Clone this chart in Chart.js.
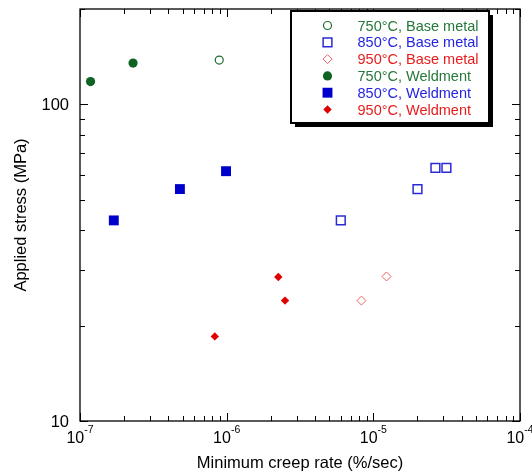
<!DOCTYPE html>
<html>
<head>
<meta charset="utf-8">
<script src="https://cdn.jsdelivr.net/npm/chart.js@4/dist/chart.umd.min.js"></script>
<style>
  html, body { margin: 0; padding: 0; background: #fff; }
  #wrap { width: 532px; height: 473px; }
</style>
</head>
<body>
<div id="wrap"><canvas id="chart-creep" width="532" height="473"></canvas></div>
<script>
// axis ranges and tick labels
const xMin = 1e-7, xMax = 1e-4;
const yMin = 10, yMax = 200;
const xTickExps = [-7, -6, -5, -4];
const yTickLabels = [10, 100];

// base metal
const base750Rate = [8.9e-7];
const base750Stress = [138];
const base850Rate = [6.0e-6, 2.0e-5, 2.65e-5, 3.15e-5];
const base850Stress = [43, 54, 63, 63];
const base950Rate = [8.3e-6, 1.23e-5];
const base950Stress = [24, 28.6];

// weldment
const weld750Rate = [1.18e-7, 2.3e-7];
const weld750Stress = [118, 135];
const weld850Rate = [1.7e-7, 4.8e-7, 9.9e-7];
const weld850Stress = [43, 54, 61.5];
const weld950Rate = [8.3e-7, 2.25e-6, 2.5e-6];
const weld950Stress = [18.5, 28.5, 24];

const FONT = '"Liberation Sans", Arial, sans-serif';

function pts(xs, ys) {
    return xs.map((x, i) => ({ x: x, y: ys[i] }));
}

function drawMarker(ctx, ds, x, y) {
    const r = ds.pointRadius;
    ctx.save();
    ctx.beginPath();
    if (ds.pointStyle === 'circle') {
        ctx.arc(x, y, r, 0, Math.PI * 2);
    } else if (ds.pointStyle === 'rect') {
        const h = r * Math.SQRT1_2;
        ctx.rect(x - h, y - h, 2 * h, 2 * h);
    } else {
        ctx.moveTo(x - r, y); ctx.lineTo(x, y - r);
        ctx.lineTo(x + r, y); ctx.lineTo(x, y + r);
        ctx.closePath();
    }
    ctx.fillStyle = ds.pointBackgroundColor;
    ctx.fill();
    if (ds.pointBorderWidth > 0) {
        ctx.lineWidth = ds.pointBorderWidth;
        ctx.strokeStyle = ds.pointBorderColor;
        ctx.stroke();
    }
    ctx.restore();
}

const framePlugin = {
    id: 'frame',
    afterDatasetsDraw(chart) {
        const ctx = chart.ctx;
        const a = chart.chartArea;
        const xs = chart.scales.x, ys = chart.scales.y;
        ctx.save();
        ctx.strokeStyle = '#000';
        ctx.lineWidth = 1.3;
        ctx.strokeRect(a.left, a.top, a.right - a.left, a.bottom - a.top);

        // x ticks (inside, bottom and top)
        ctx.lineWidth = 1;
        for (let e = -7; e < -4; e++) {
            for (let m = 1; m <= 10; m++) {
                const v = m * Math.pow(10, e);
                const px = Math.round(xs.getPixelForValue(v)) + 0.5;
                const len = (m === 1 || m === 10) ? 8 : 5;
                ctx.beginPath();
                ctx.moveTo(px, a.bottom); ctx.lineTo(px, a.bottom - len);
                ctx.moveTo(px, a.top); ctx.lineTo(px, a.top + len);
                ctx.stroke();
            }
        }
        // y ticks (inside, left and right)
        const yVals = [10, 20, 30, 40, 50, 60, 70, 80, 90, 100, 200];
        yVals.forEach(v => {
            const py = Math.round(ys.getPixelForValue(v)) + 0.5;
            const len = (v === 10 || v === 100) ? 8 : 5;
            ctx.beginPath();
            ctx.moveTo(a.left, py); ctx.lineTo(a.left + len, py);
            ctx.moveTo(a.right, py); ctx.lineTo(a.right - len, py);
            ctx.stroke();
        });

        // y tick labels
        ctx.fillStyle = '#000';
        ctx.font = '16.5px ' + FONT;
        ctx.textAlign = 'right';
        ctx.textBaseline = 'middle';
        yTickLabels.forEach(v => {
            ctx.fillText(String(v), a.left - 11, ys.getPixelForValue(v) + 1);
        });

        // x tick labels with superscript exponent
        ctx.textAlign = 'left';
        ctx.textBaseline = 'alphabetic';
        xTickExps.forEach(e => {
            const px = xs.getPixelForValue(Math.pow(10, e));
            ctx.font = '16px ' + FONT;
            const wBase = ctx.measureText('10').width;
            ctx.font = '10.5px ' + FONT;
            const sup = String(e);
            const wSup = ctx.measureText(sup).width;
            const x0 = px - (wBase + wSup) / 2;
            ctx.font = '16px ' + FONT;
            ctx.fillText('10', x0, a.bottom + 22);
            ctx.font = '10.5px ' + FONT;
            ctx.fillText(sup, x0 + wBase, a.bottom + 12);
        });

        // axis titles
        ctx.font = '16.5px ' + FONT;
        ctx.textAlign = 'center';
        ctx.textBaseline = 'middle';
        ctx.fillText('Minimum creep rate (%/sec)', (a.left + a.right) / 2, a.bottom + 42);
        ctx.save();
        ctx.translate(21, (a.top + a.bottom) / 2);
        ctx.rotate(-Math.PI / 2);
        ctx.fillText('Applied stress (MPa)', 0, 0);
        ctx.restore();

        // legend box with shadow
        const lx = 291, ly = 11, lw = 198, lh = 112;
        ctx.fillStyle = '#000';
        ctx.fillRect(lx + 4, ly + 4, lw, lh);
        ctx.fillStyle = '#fff';
        ctx.fillRect(lx, ly, lw, lh);
        ctx.lineWidth = 2;
        ctx.strokeStyle = '#000';
        ctx.strokeRect(lx, ly, lw, lh);

        ctx.font = '14.5px ' + FONT;
        ctx.textAlign = 'left';
        ctx.textBaseline = 'middle';
        chart.data.datasets.forEach((ds, i) => {
            const ry = 25.5 + i * 16.8;
            drawMarker(ctx, ds, 327.5, ry);
            ctx.fillStyle = ds.textColor;
            ctx.fillText(ds.label, 357.5, ry + 1);
        });
        ctx.restore();
    }
};

const ctxCreep = document.getElementById('chart-creep').getContext('2d');
new Chart(ctxCreep, {
    type: 'scatter',
    data: {
        datasets: [
            { label: '750°C, Base metal', data: pts(base750Rate, base750Stress),
              pointStyle: 'circle', pointRadius: 4, pointBorderWidth: 1.2,
              pointBackgroundColor: '#fff', pointBorderColor: '#1b6e2c', textColor: '#26783a' },
            { label: '850°C, Base metal', data: pts(base850Rate, base850Stress),
              pointStyle: 'rect', pointRadius: 6.2, pointBorderWidth: 1.5,
              pointBackgroundColor: '#fff', pointBorderColor: '#2b2bd6', textColor: '#2424e0' },
            { label: '950°C, Base metal', data: pts(base950Rate, base950Stress),
              pointStyle: 'rectRot', pointRadius: 4.5, pointBorderWidth: 1,
              pointBackgroundColor: '#fff', pointBorderColor: '#f06464', textColor: '#e61c1c' },
            { label: '750°C, Weldment', data: pts(weld750Rate, weld750Stress),
              pointStyle: 'circle', pointRadius: 4.6, pointBorderWidth: 0,
              pointBackgroundColor: '#0f6424', pointBorderColor: '#0f6424', textColor: '#26783a' },
            { label: '850°C, Weldment', data: pts(weld850Rate, weld850Stress),
              pointStyle: 'rect', pointRadius: 7, pointBorderWidth: 0,
              pointBackgroundColor: '#0000cc', pointBorderColor: '#0000cc', textColor: '#2424e0' },
            { label: '950°C, Weldment', data: pts(weld950Rate, weld950Stress),
              pointStyle: 'rectRot', pointRadius: 4.2, pointBorderWidth: 0,
              pointBackgroundColor: '#e00000', pointBorderColor: '#e00000', textColor: '#e61c1c' }
        ]
    },
    options: {
        responsive: false,
        animation: false,
        events: [],
        layout: { padding: { left: 80, right: 12, top: 9, bottom: 52 } },
        scales: {
            x: { type: 'logarithmic', min: xMin, max: xMax, display: false },
            y: { type: 'logarithmic', min: yMin, max: yMax, display: false }
        },
        plugins: { legend: { display: false }, tooltip: { enabled: false } }
    },
    plugins: [framePlugin]
});
</script>
</body>
</html>
